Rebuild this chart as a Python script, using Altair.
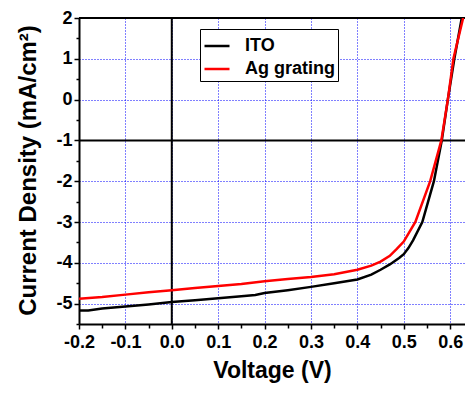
import altair as alt
import pandas as pd

# ---- data ----
SERIES = ["ITO", "Ag grating"]
COLORS = ["#000000", "#ff0000"]

ITO_V = [-0.2, -0.18, -0.15, -0.1, -0.05, 0.0, 0.05, 0.1, 0.15, 0.18, 0.2, 0.25,
         0.3, 0.35, 0.4, 0.43, 0.45, 0.47, 0.49, 0.5, 0.51, 0.52, 0.54, 0.565,
         0.582, 0.595, 0.609, 0.625]
ITO_J = [-5.17, -5.17, -5.12, -5.07, -5.02, -4.96, -4.92, -4.87, -4.82, -4.79, -4.74, -4.67,
         -4.59, -4.50, -4.41, -4.29, -4.17, -4.04, -3.88, -3.79, -3.64, -3.45, -3.0, -2.0,
         -1.0, 0.0, 1.0, 2.0]

AG_V = [-0.2, -0.15, -0.1, -0.05, 0.0, 0.05, 0.1, 0.15, 0.2, 0.25, 0.3, 0.35,
        0.4, 0.43, 0.45, 0.47, 0.485, 0.5, 0.525, 0.557, 0.581, 0.595, 0.607, 0.628]
AG_J = [-4.88, -4.84, -4.78, -4.72, -4.67, -4.62, -4.57, -4.52, -4.45, -4.40, -4.35, -4.28,
        -4.17, -4.07, -3.97, -3.83, -3.66, -3.48, -3.0, -2.0, -1.0, 0.0, 1.0, 2.0]

X_TICKS = [-0.2, -0.1, 0.0, 0.1, 0.2, 0.3, 0.4, 0.5, 0.6]
X_MINOR = [-0.15, -0.05, 0.05, 0.15, 0.25, 0.35, 0.45, 0.55]
Y_TICKS = [-5, -4, -3, -2, -1, 0, 1, 2]
Y_MINOR = [-5.5, -4.5, -3.5, -2.5, -1.5, -0.5, 0.5, 1.5]
X_DOMAIN = [-0.2, 0.632]
Y_DOMAIN = [-5.5, 2]

rows = []
for v, j in zip(ITO_V, ITO_J):
    rows.append({"V": v, "J": j, "series": SERIES[0]})
for v, j in zip(AG_V, AG_J):
    rows.append({"V": v, "J": j, "series": SERIES[1]})
df = pd.DataFrame(rows)

FONT = "Liberation Sans"
xscale = alt.Scale(domain=X_DOMAIN, nice=False, zero=False)
yscale = alt.Scale(domain=Y_DOMAIN, nice=False, zero=False)

x_major = alt.Axis(
    values=X_TICKS, orient="bottom",
    labelExpr="datum.value < 0 ? '-' + format(-datum.value, '.1f') : format(datum.value, '.1f')",
    title="Voltage (V)", grid=True, gridColor="#0000ff", gridDash=[1, 2], gridWidth=1, gridOpacity=1,
    domainColor="black", domainWidth=2, tickColor="black", tickWidth=1.5, tickSize=5,
    labelFont=FONT, labelFontSize=18, labelFontWeight="bold", labelColor="black", labelPadding=4,
    labelFlush=False, labelOverlap=False,
    titleFont=FONT, titleFontSize=23, titleFontWeight="bold", titleColor="black",
    titleY=53, titleBaseline="alphabetic",
)
y_major = alt.Axis(
    values=Y_TICKS, orient="left",
    labelExpr="datum.value < 0 ? '-' + format(-datum.value, 'd') : format(datum.value, 'd')",
    title="Current Density (mA/cm²)", grid=True, gridColor="#0000ff", gridDash=[1, 2], gridWidth=1, gridOpacity=1,
    domainColor="black", domainWidth=2, tickColor="black", tickWidth=1.5, tickSize=5,
    labelFont=FONT, labelFontSize=18, labelFontWeight="bold", labelColor="black", labelPadding=2,
    labelFlush=False, labelOverlap=False, labelBaseline="middle",
    titleFont=FONT, titleFontSize=24, titleFontWeight="bold", titleColor="black",
    titleX=-44, titleY=152, titleAngle=270, titleBaseline="alphabetic", titleAlign="center",
)
x_minor = alt.Axis(values=X_MINOR, orient="bottom", labels=False, title="", domain=False, grid=False,
                   tickColor="black", tickWidth=1.5, tickSize=4)
y_minor = alt.Axis(values=Y_MINOR, orient="left", labels=False, title="", domain=False, grid=False,
                   tickColor="black", tickWidth=1.5, tickSize=3)

lines = alt.Chart(df).mark_line(strokeWidth=2.5, clip=True).encode(
    x=alt.X("V:Q", scale=xscale, axis=x_major),
    y=alt.Y("J:Q", scale=yscale, axis=y_major),
    color=alt.Color("series:N", scale=alt.Scale(domain=SERIES, range=COLORS),
                    legend=alt.Legend(
                        orient="none", legendX=121, legendY=11, title=None,
                        symbolType="stroke", symbolStrokeWidth=2.5, symbolSize=625,
                        labelFont=FONT, labelFontSize=18, labelFontWeight="bold", labelColor="black",
                        labelOffset=14, rowPadding=-8, padding=3,
                        strokeColor="black", fillColor="white")),
    detail="series:N",
)

vrule = alt.Chart().mark_rule(color="black", strokeWidth=2).encode(
    x=alt.X(datum=0, type="quantitative", scale=xscale, axis=x_minor))
hrule = alt.Chart().mark_rule(color="black", strokeWidth=2).encode(
    y=alt.Y(datum=-1, type="quantitative", scale=yscale, axis=y_minor))
toprule = alt.Chart().mark_rule(color="black", strokeWidth=2).encode(
    y=alt.Y(datum=2, type="quantitative", scale=yscale, axis=None))

chart = alt.layer(vrule, hrule, toprule, lines).resolve_axis(
    x="independent", y="independent"
).properties(
    width=386, height=306,
    autosize=alt.AutoSizeParams(type="none"),
    padding={"left": 71, "top": 10, "right": 0, "bottom": 61},
    background="white",
).configure_view(stroke=None)

chart.save("out.html", embed_options={"renderer": "svg", "actions": False})
